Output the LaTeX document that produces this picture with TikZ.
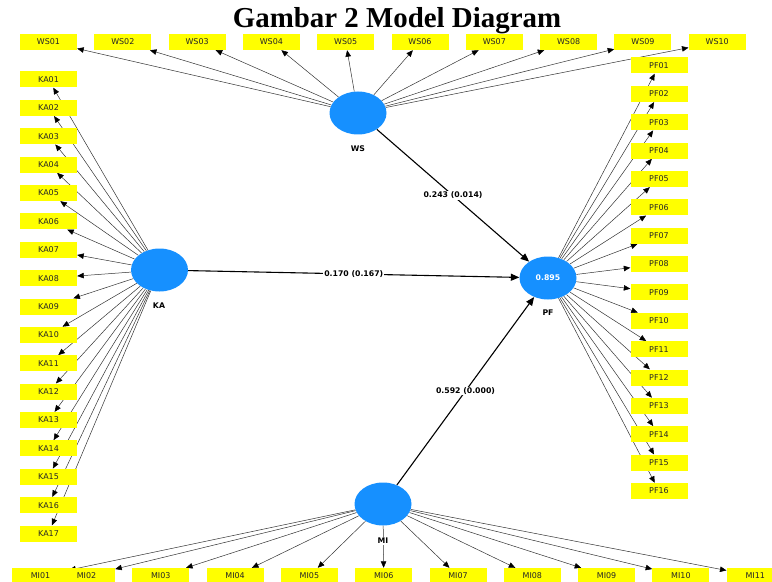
\documentclass[tikz,border=0pt]{standalone}
\usepackage{fontspec}
\setmainfont{Liberation Serif}
\setsansfont{DejaVu Sans}
\usetikzlibrary{shapes.geometric,arrows.meta,backgrounds}
\definecolor{lvblue}{RGB}{22,144,255}
\definecolor{lvyellow}{RGB}{255,255,0}
\definecolor{lvline}{RGB}{50,50,50}
\tikzset{
 ind/.style={rectangle,fill=lvyellow,minimum width=57bp,minimum height=16bp,inner sep=0pt,font=\sffamily\fontsize{8}{9}\selectfont,text=black!85},
 lv/.style={ellipse,fill=lvblue,minimum width=57bp,minimum height=43bp,inner sep=0pt},
 lvname/.style={font=\sffamily\bfseries\fontsize{7.8}{9}\selectfont,inner sep=1bp},
 meas/.style={draw=lvline,line width=0.5bp,-{Triangle[length=6.5bp,width=5.5bp,color=black]}},
 struct/.style={draw=black,line width=1.1bp,-{Triangle[length=8.5bp,width=7bp]}},
 coef/.style={font=\sffamily\bfseries\fontsize{7.8}{9}\selectfont,fill=white,inner sep=1bp},
}
\begin{document}
\begin{tikzpicture}[x=1bp,y=-1bp]
\useasboundingbox (0,0) rectangle (772,582);
\node[font=\bfseries\fontsize{29}{30}\selectfont,anchor=base,inner sep=0pt] (title) at (397,28) {Gambar 2 Model Diagram};
% latent variables
\node[lv] (WS) at (358,113) {};
\node[lv] (KA) at (159.5,270) {};
\node[lv,text=white,font=\sffamily\bfseries\fontsize{7.8}{9}\selectfont] (PF) at (548,278) {0.895};
\node[lv] (MI) at (383,504) {};
\node[lvname] (WSlab) at (358,149) {WS};
\node[lvname] (KAlab) at (159,306) {KA};
\node[lvname] (PFlab) at (548,313) {PF};
% indicators
\foreach \n [count=\i from 0] in {01,02,03,04,05,06,07,08,09,10}
  \node[ind] (WS\n) at ({48.5+74.3*\i},42) {WS\n};
\foreach \n [count=\i from 0] in {01,02,03,04,05,06,07,08,09,10,11,12,13,14,15,16,17}
  \node[ind] (KA\n) at (48.5,{79.5+28.375*\i}) {KA\n};
\foreach \n [count=\i from 0] in {01,02,03,04,05,06,07,08,09,10,11,12,13,14,15,16}
  \node[ind] (PF\n) at (659,{65.5+28.37*\i}) {PF\n};
\node[ind] (MI01) at (40.5,576) {MI01};
\foreach \n [count=\i from 0] in {02,03,04,05,06,07,08,09,10,11}
  \node[ind] (MI\n) at ({86.5+74.3*\i},576) {MI\n};
\node[lvname,fill=white] (MIlab) at (383,541) {MI};
% connectors
\begin{scope}[on background layer]
\foreach \n in {01,02,03,04,05,06,07,08,09,10}
  \draw[meas] (WS) -- (WS\n);
\foreach \n in {01,02,03,04,05,06,07,08,09,10,11,12,13,14,15,16,17}
  \draw[meas] (KA) -- (KA\n);
\foreach \n in {01,02,03,04,05,06,07,08,09,10,11,12,13,14,15,16}
  \draw[meas] (PF) -- (PF\n);
\foreach \n in {01,02,03,04,05,06,07,08,09,10,11}
  \draw[meas] (MI) -- (MI\n);
\draw[struct] (WS) -- node[coef,pos=0.5] {0.243 (0.014)} (PF);
\draw[struct] (KA) -- node[coef,pos=0.5] {0.170 (0.167)} (PF);
\draw[struct] (MI) -- node[coef,pos=0.5] {0.592 (0.000)} (PF);
\end{scope}
\end{tikzpicture}
\end{document}
